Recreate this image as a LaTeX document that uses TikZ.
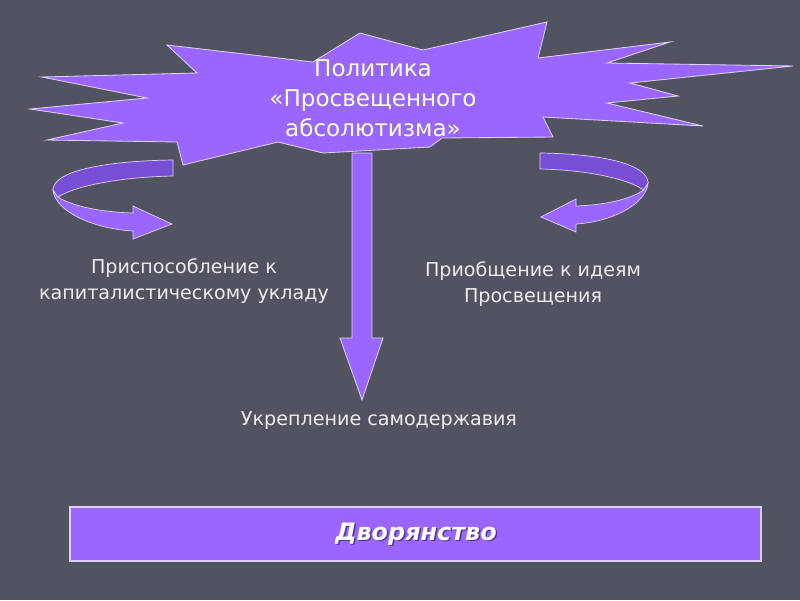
\documentclass[tikz,border=0pt]{standalone}
\usepackage{fontspec}
\setmainfont{DejaVu Sans}
\definecolor{slate}{RGB}{82,83,96}
\definecolor{lila}{RGB}{153,102,255}
\definecolor{lilaDark}{RGB}{120,78,212}
\definecolor{rim}{RGB}{222,208,255}
\definecolor{cream}{RGB}{255,255,212}
\definecolor{pale}{RGB}{236,236,240}
\tikzset{
  burst/.style={fill=lila, draw=rim, line width=0.6pt, line join=miter},
  twistdark/.style={fill=lilaDark, draw=rim, line width=0.5pt},
  twistlight/.style={fill=lila, draw=rim, line width=0.5pt},
  caption/.style={text=pale, align=center, font=\fontsize{13.6}{18.5}\selectfont},
  headline/.style={text=cream, align=center, font=\fontsize{16.4}{21.3}\selectfont},
  estate/.style={font=\fontsize{17}{20}\selectfont\bfseries\itshape},
  twist/.pic={
    % front half of the ribbon
    \draw[twistlight] (-120,30) .. controls (-118,52) and (-78,69) .. (-40,71)
      -- (-40,79) -- (-1,64) -- (-40,46) -- (-40,53)
      .. controls (-73,52) and (-101,46) .. (-115,37) -- cycle;
    % back half of the ribbon
    \draw[twistdark] (0,0) .. controls (-73,1) and (-120,12) .. (-120,30)
      -- (-115,37) .. controls (-98,26) and (-53,17) .. (0,16) -- cycle;
  }
}
\begin{document}
\begin{tikzpicture}[x=0.025cm, y=-0.025cm]
\fill[slate] (0,0) rectangle (800,600);
\useasboundingbox (0,0) rectangle (800,600);

% star with the title
\draw[burst] (167,45) -- (313,62) -- (360,33) -- (423,50) -- (547,22) -- (538,58)
  -- (670,42) -- (607,63) -- (793,66) -- (630,83) -- (678,96) -- (607,103)
  -- (703,126) -- (543,117) -- (553,137) -- (442,138) -- (430,147) -- (323,153)
  -- (278,142) -- (183,165) -- (177,142) -- (47,140) -- (123,123) -- (30,109)
  -- (147,98) -- (42,77) -- (197,73) -- cycle;
\node[headline] (policy) at (373,98) {Политика\\«Просвещенного\\абсолютизма»};

% turning arrows
\pic at (173,160) {twist};
\pic[xscale=-0.9] at (540,153) {twist};

% arrow down
\draw[burst] (352,153) -- (372,153) -- (372,338) -- (383,338) -- (362,400)
  -- (340,338) -- (352,338) -- cycle;

\node[caption] (adapt) at (184,281) {Приспособление к\\капиталистическому укладу};
\node[caption] (ideas) at (533,284) {Приобщение к идеям\\Просвещения};
\node[caption] (autocracy) at (379,421) {Укрепление самодержавия};

% nobility bar
\draw[fill=lila, draw=rim, line width=0.8pt] (70,507) rectangle (761,561);
\node[estate, text=lilaDark!70!black] (nobshadow) at (417.5,535.5) {Дворянство};
\node[estate, text=white] (nobility) at (416,534) {Дворянство};
\end{tikzpicture}
\end{document}
